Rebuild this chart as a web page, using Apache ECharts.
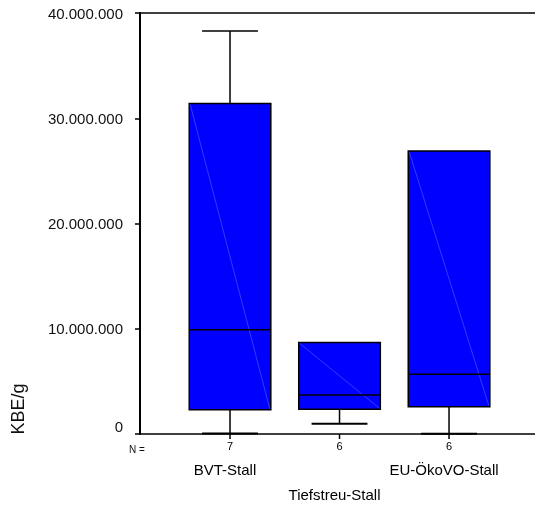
<!DOCTYPE html>
<html>
<head>
<meta charset="utf-8">
<script src="https://cdn.jsdelivr.net/npm/echarts@6/dist/echarts.min.js"></script>
<style>html,body{margin:0;padding:0;background:#fff}#c{width:535px;height:510px}</style>
</head>
<body>
<div id="c"></div>
<script>
// ---- data ----
const categories = ['BVT-Stall', 'Tiefstreu-Stall', 'EU-ÖkoVO-Stall'];
const counts = [7, 6, 6];
const whiskerLow = [50000, 980000, 30000];
const q1 = [2300000, 2350000, 2600000];
const median = [9900000, 3700000, 5670000];
const q3 = [31400000, 8700000, 26900000];
const whiskerHigh = [38300000, 8700000, 26900000];
const yTicks = [0, 10000000, 20000000, 30000000, 40000000];
const yTitle = 'KBE/g';
const nLabel = 'N =';

// ---- layout / style ----
const FONT = '"Liberation Sans", Arial, sans-serif';
const X_MIN = 0.178, X_MAX = 3.785;
const BOX_W = 0.745, CAP_W = 0.51;

function fmt(v) {
  return String(Math.round(v)).replace(/\B(?=(\d{3})+(?!\d))/g, '.');
}

const boxData = categories.map((c, i) => [i + 1, whiskerLow[i], q1[i], median[i], q3[i], whiskerHigh[i]]);

function renderBox(params, api) {
  const i = params.dataIndex;
  const x = api.value(0);
  const pLo = api.coord([x, api.value(1)]);
  const pQ1 = api.coord([x, api.value(2)]);
  const pMd = api.coord([x, api.value(3)]);
  const pQ3 = api.coord([x, api.value(4)]);
  const pHi = api.coord([x, api.value(5)]);
  const p0 = api.coord([x, 0]);
  const halfBox = api.size([BOX_W, 0])[0] / 2;
  const halfCap = api.size([CAP_W, 0])[0] / 2;
  const cx = pQ1[0];
  const ls = { stroke: '#000', lineWidth: 1.5 };
  const ch = [];
  ch.push({ type: 'line', shape: { x1: cx, y1: p0[1], x2: cx, y2: p0[1] + 5 }, style: ls });
  if (pHi[1] < pQ3[1] - 0.5) {
    ch.push({ type: 'line', shape: { x1: cx, y1: pQ3[1], x2: cx, y2: pHi[1] }, style: ls });
    ch.push({ type: 'line', shape: { x1: cx - halfCap, y1: pHi[1], x2: cx + halfCap, y2: pHi[1] }, style: ls });
  }
  if (pLo[1] > pQ1[1] + 0.5) {
    ch.push({ type: 'line', shape: { x1: cx, y1: pQ1[1], x2: cx, y2: pLo[1] }, style: ls });
    ch.push({ type: 'line', shape: { x1: cx - halfCap, y1: pLo[1], x2: cx + halfCap, y2: pLo[1] }, style: { stroke: '#000', lineWidth: 2 } });
  }
  ch.push({ type: 'rect', shape: { x: cx - halfBox, y: pQ3[1], width: 2 * halfBox, height: pQ1[1] - pQ3[1] },
            style: { fill: '#0000ff', stroke: '#000', lineWidth: 1.5 } });
  ch.push({ type: 'line', shape: { x1: cx - halfBox + 1, y1: pQ3[1] + 1, x2: cx + halfBox - 1, y2: pQ1[1] - 1 },
            style: { stroke: '#4a68ff', lineWidth: 0.6 } });
  ch.push({ type: 'line', shape: { x1: cx - halfBox, y1: pMd[1], x2: cx + halfBox, y2: pMd[1] },
            style: { stroke: '#000', lineWidth: 1.6 } });
  ch.push({ type: 'text', x: cx, y: p0[1] + 13,
            style: { text: String(counts[i]), font: '11px ' + FONT, fill: '#000',
                     align: 'center', verticalAlign: 'middle', textAlign: 'center', textVerticalAlign: 'middle' } });
  ch.push({ type: 'text', x: cx - 5, y: p0[1] + (i % 2 ? 62 : 37),
            style: { text: categories[i], font: '15px ' + FONT, fill: '#000',
                     align: 'center', verticalAlign: 'middle', textAlign: 'center', textVerticalAlign: 'middle' } });
  return { type: 'group', children: ch };
}

const chart = echarts.init(document.getElementById('c'));
const axisX = (pos, w) => ({
  type: 'value', position: pos, min: X_MIN, max: X_MAX,
  axisLine: { show: true, onZero: false, lineStyle: { color: '#000', width: w } },
  axisTick: { show: false }, axisLabel: { show: false }, splitLine: { show: false }
});
chart.setOption({
  animation: false,
  grid: { left: 140, top: 13, right: 0, bottom: 76, containLabel: false, outerBoundsMode: 'none' },
  xAxis: [axisX('bottom', 1.5), axisX('top', 1.5)],
  yAxis: {
    type: 'value', min: yTicks[0], max: yTicks[yTicks.length - 1], interval: yTicks[1] - yTicks[0],
    axisLine: { show: true, lineStyle: { color: '#000', width: 2 } },
    axisTick: { show: true, length: 5, lineStyle: { color: '#000', width: 1.5 } },
    axisLabel: {
      margin: 17, fontSize: 15, fontFamily: FONT, color: '#111',
      formatter: v => v === 0 ? '{z|0}' : '{n|' + fmt(v) + '}',
      rich: {
        z: { fontSize: 15, fontFamily: FONT, color: '#111', padding: [0, 0, 12, 0] },
        n: { fontSize: 15, fontFamily: FONT, color: '#111', padding: [3, 0, 0, 0] }
      }
    },
    splitLine: { show: false }
  },
  graphic: [
    { type: 'text', x: 19, y: 409, rotation: Math.PI / 2,
      style: { text: yTitle, font: '18px ' + FONT, fill: '#111', align: 'center', verticalAlign: 'middle', textAlign: 'center', textVerticalAlign: 'middle' } },
    { type: 'text', x: 137, y: 450,
      style: { text: nLabel, font: '10px ' + FONT, fill: '#111', align: 'center', verticalAlign: 'middle', textAlign: 'center', textVerticalAlign: 'middle' } }
  ],
  series: [{
    type: 'custom', xAxisIndex: 0, yAxisIndex: 0, data: boxData,
    encode: { x: 0, y: [1, 2, 3, 4, 5] }, renderItem: renderBox, clip: false, silent: true
  }]
});
</script>
</body>
</html>
